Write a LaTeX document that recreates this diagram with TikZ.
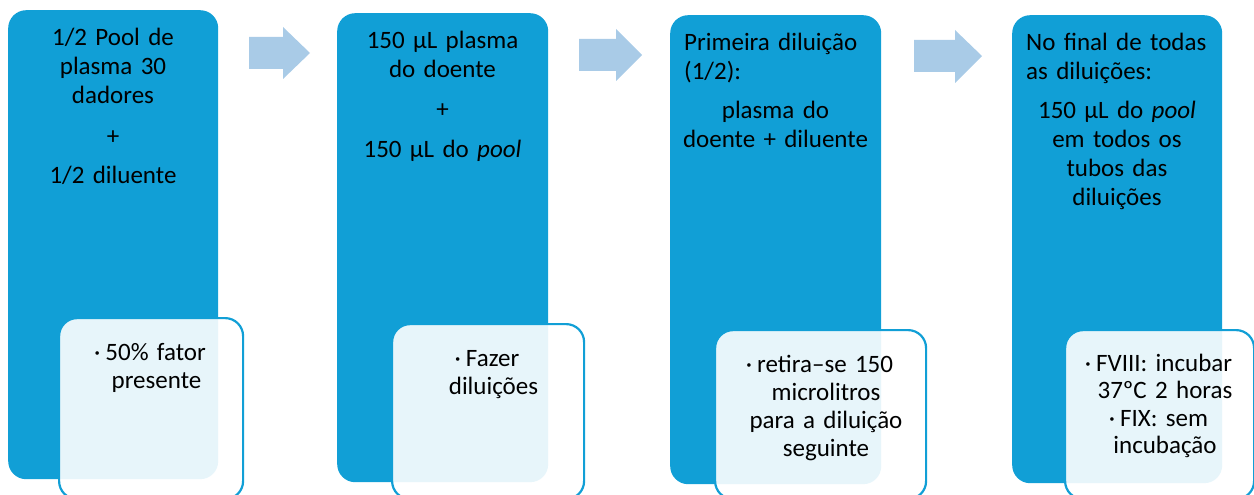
\documentclass[tikz,border=0pt]{standalone}
\usepackage{fontspec}
\setmainfont{Carlito}[WordSpace=0.7]
\definecolor{mainblue}{HTML}{119FD6}
\definecolor{arrowblue}{HTML}{A9CBE7}
\begin{document}
\begin{tikzpicture}[x=1pt,y=-1pt,
  mainbox/.style={fill=mainblue, rounded corners=18pt, anchor=north west, inner sep=0pt, draw=none},
  subbox/.style={fill=white, fill opacity=0.9, draw=mainblue, draw opacity=1, line width=2.2pt, rounded corners=18pt, anchor=north west, inner sep=0pt},
  txt/.style={inner sep=0pt, font=\fontsize{25}{29}\selectfont, text=black},
  txtc/.style={txt, text width=230pt, align=center, anchor=north},
  txtl/.style={txt, text width=200pt, align=left, anchor=north west},
  txts/.style={inner sep=0pt, font=\fontsize{25}{28}\selectfont, text=black, text width=230pt, align=center, anchor=north},
  blockarrow/.style={fill=arrowblue, draw=none}
]
\useasboundingbox (0,0) rectangle (1254,495);
\clip (0,0) rectangle (1254,495);
\newcommand{\fs}{\rule{0pt}{20pt}}
\newcommand{\hg}{\hspace*{13pt}}

% main boxes
\node[mainbox, minimum width=210pt, minimum height=469pt] (b1) at (8,10) {};
\node[mainbox, minimum width=211pt, minimum height=469pt] (b2) at (337,13) {};
\node[mainbox, minimum width=211pt, minimum height=469pt] (b3) at (670,15) {};
\node[mainbox, minimum width=210pt, minimum height=468pt] (b4) at (1012,15) {};

% sub boxes
\node[subbox, minimum width=184pt, minimum height=181pt] (s1) at (58,317) {};
\node[subbox, minimum width=192pt, minimum height=175pt] (s2) at (391,323) {};
\node[subbox, minimum width=211pt, minimum height=169pt] (s3) at (714,329) {};
\node[subbox, minimum width=189pt, minimum height=169pt] (s4) at (1064,329) {};

% block arrows
\fill[blockarrow] (249,37) -- (283,37) -- (283,27) -- (310,53) -- (283,79) -- (283,69) -- (249,69) -- cycle;
\fill[blockarrow] (579,39) -- (616,39) -- (616,29) -- (642,55) -- (616,81) -- (616,71) -- (579,71) -- cycle;
\fill[blockarrow] (914,40) -- (955,40) -- (955,30) -- (982,56) -- (955,83) -- (955,72) -- (914,72) -- cycle;

% main texts
\node[txtc] (t1) at (113,25) {\fs 1/2 Pool de\\plasma 30\\dadores\\[12pt]+\\[10pt]1/2 diluente};
\node[txtc] (t2) at (442.5,28) {\fs 150 µL plasma\\do doente\\[11pt]+\\[11pt]150 µL do \textit{pool}};
\node[txtl] (t3a) at (684,30) {\fs Primeira diluição\\(1/2):};
\node[txtc] (t3b) at (775.5,98) {\fs plasma do\\doente + diluente};
\node[txtl] (t4a) at (1026,30) {\fs No final de todas\\as diluições:};
\node[txtc] (t4b) at (1117,98) {\fs 150 µL do \textit{pool}\\em todos os\\tubos das\\diluições};

% sub texts
\node[txts] (u1) at (150,340) {\fs ·\hspace{5pt}50\% fator\\\hg presente};
\node[txts] (u2) at (487,346) {\fs ·\hspace{5pt}Fazer\\\hg diluições};
\node[txts] (u3) at (819.5,352) {\fs ·\hspace{5pt}retira–se 150\\\hg microlitros\\\hg para a diluição\\\hg seguinte};
\node[txts, font=\fontsize{25}{27.5}\selectfont] (u4) at (1158.5,351) {\fs ·\hspace{5pt}FVIII: incubar\\\hg 37ºC 2 horas\\·\hspace{5pt}FIX: sem\\\hg incubação};
\end{tikzpicture}
\end{document}
